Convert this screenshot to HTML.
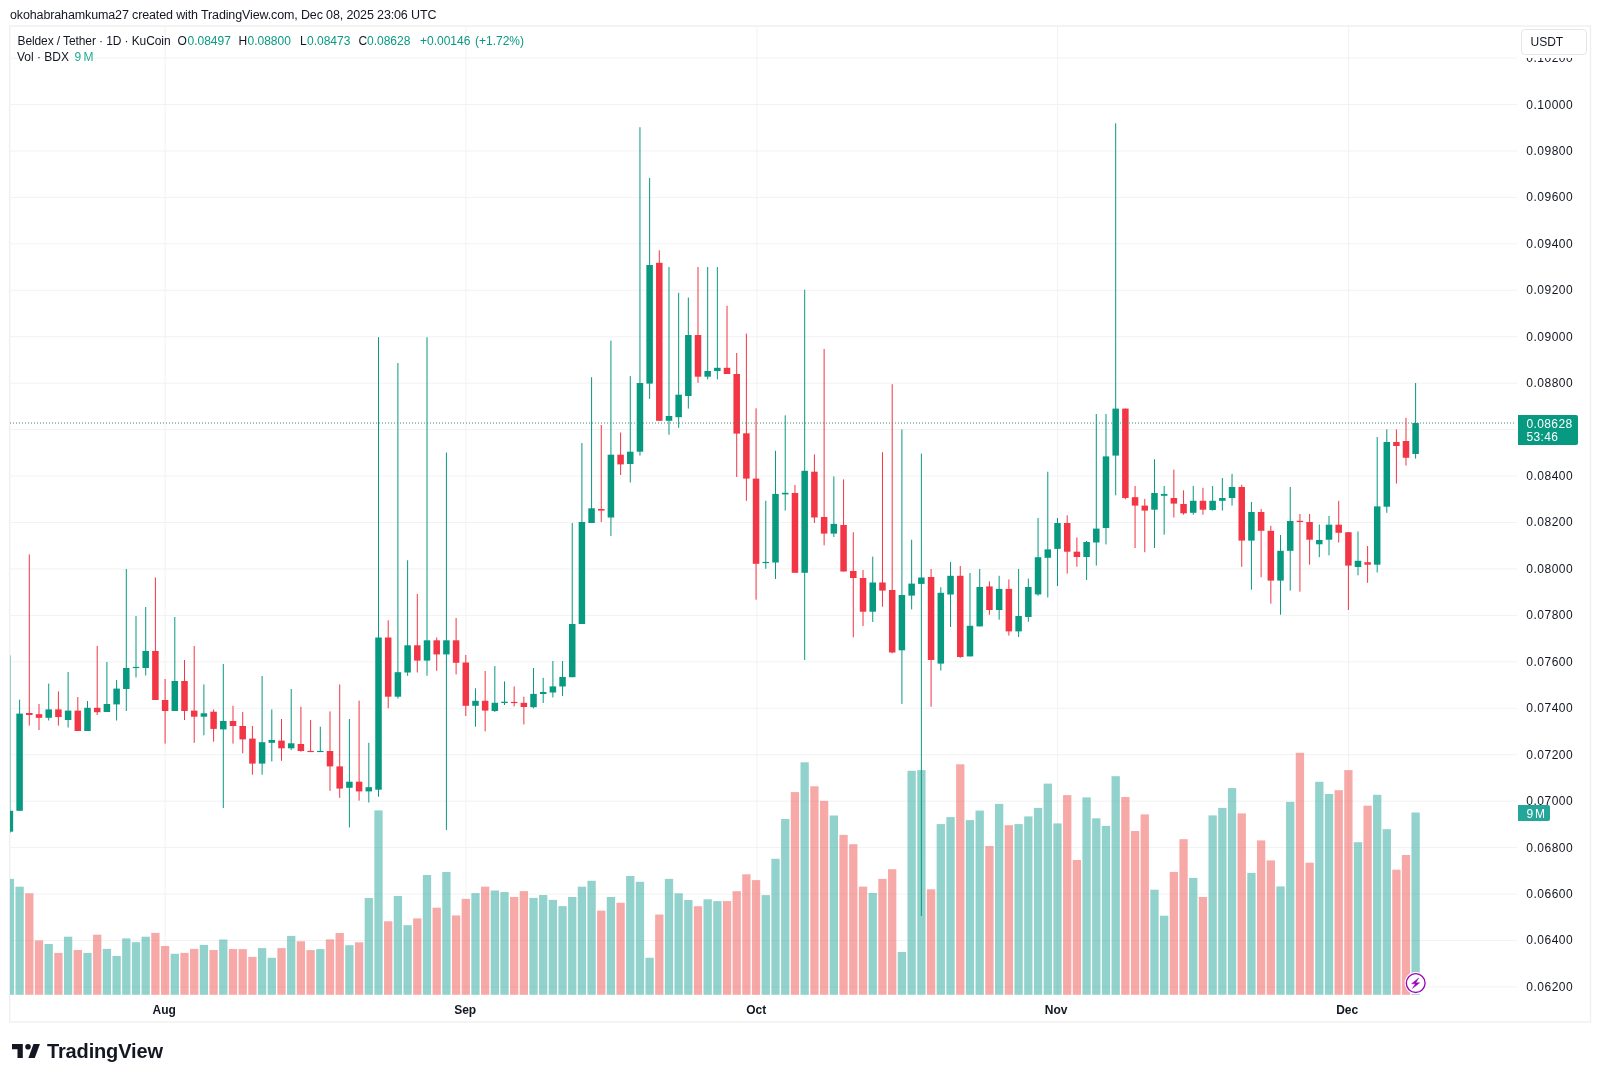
<!DOCTYPE html>
<html><head><meta charset="utf-8">
<style>
html,body{margin:0;padding:0;background:#fff;}
body{will-change:transform;width:1600px;height:1080px;position:relative;overflow:hidden;font-family:"Liberation Sans",sans-serif;color:#131722;}
.hdr{position:absolute;left:10px;top:6px;font-size:12.5px;line-height:18px;white-space:nowrap;letter-spacing:-0.13px;}
.frame{position:absolute;left:9px;top:25px;width:1580px;height:996px;border:1px solid #e8e8e8;}
svg.chart{position:absolute;left:0;top:0;}
.leg{position:absolute;left:17px;font-size:12px;line-height:16px;white-space:nowrap;}
.leg .v,.leg.v{color:#089981;}
.pl{position:absolute;left:1526.3px;font-size:12px;line-height:16px;white-space:nowrap;letter-spacing:0.5px;}
.tl{position:absolute;top:1002px;font-size:12px;font-weight:bold;line-height:16px;width:60px;text-align:center;}
.usdt{position:absolute;left:1520.5px;top:29px;width:64px;height:24px;border:1px solid #e6e6e6;border-radius:4px;background:#fff;font-size:12px;line-height:24px;box-sizing:content-box;}
.usdt span{position:absolute;left:9px;top:-0.5px;}
.ptag{position:absolute;left:1518px;top:415px;width:60px;height:29.5px;background:#089981;color:#fff;font-size:12px;line-height:13px;border-radius:0 2px 2px 0;}
.ptag div{position:absolute;left:8.4px;letter-spacing:0.4px;}
.vtag{position:absolute;left:1518px;top:805px;width:32px;height:16px;background:#24a69a;color:#fff;font-size:12px;line-height:16px;border-radius:0 2px 2px 0;}
.logo{position:absolute;left:11.9px;top:1043.6px;}
.logotext{position:absolute;left:47px;top:1039px;font-size:20px;font-weight:bold;line-height:24px;letter-spacing:-0.15px;}
</style></head><body>
<div class="hdr">okohabrahamkuma27 created with TradingView.com, Dec 08, 2025 23:06 UTC</div>

<svg class="chart" width="1600" height="1080" viewBox="0 0 1600 1080">
<defs><clipPath id="cp"><rect x="10" y="26" width="1507" height="969"/></clipPath></defs>
<rect x="9.75" y="26" width="1580.75" height="996" fill="none" stroke="#efefef" stroke-width="1.4"/>
<g><rect x="10" y="57.56" width="1507" height="1" fill="#f2f2f2"/><rect x="10" y="104" width="1507" height="1" fill="#f2f2f2"/><rect x="10" y="150.44" width="1507" height="1" fill="#f2f2f2"/><rect x="10" y="196.89" width="1507" height="1" fill="#f2f2f2"/><rect x="10" y="243.33" width="1507" height="1" fill="#f2f2f2"/><rect x="10" y="289.77" width="1507" height="1" fill="#f2f2f2"/><rect x="10" y="336.21" width="1507" height="1" fill="#f2f2f2"/><rect x="10" y="382.66" width="1507" height="1" fill="#f2f2f2"/><rect x="10" y="429.1" width="1507" height="1" fill="#f2f2f2"/><rect x="10" y="475.54" width="1507" height="1" fill="#f2f2f2"/><rect x="10" y="521.99" width="1507" height="1" fill="#f2f2f2"/><rect x="10" y="568.43" width="1507" height="1" fill="#f2f2f2"/><rect x="10" y="614.87" width="1507" height="1" fill="#f2f2f2"/><rect x="10" y="661.32" width="1507" height="1" fill="#f2f2f2"/><rect x="10" y="707.76" width="1507" height="1" fill="#f2f2f2"/><rect x="10" y="754.2" width="1507" height="1" fill="#f2f2f2"/><rect x="10" y="800.64" width="1507" height="1" fill="#f2f2f2"/><rect x="10" y="847.09" width="1507" height="1" fill="#f2f2f2"/><rect x="10" y="893.53" width="1507" height="1" fill="#f2f2f2"/><rect x="10" y="939.97" width="1507" height="1" fill="#f2f2f2"/><rect x="10" y="986.42" width="1507" height="1" fill="#f2f2f2"/><rect x="164.7" y="26" width="1" height="969" fill="#f2f2f2"/><rect x="465.4" y="26" width="1" height="969" fill="#f2f2f2"/><rect x="756.4" y="26" width="1" height="969" fill="#f2f2f2"/><rect x="1057.1" y="26" width="1" height="969" fill="#f2f2f2"/><rect x="1348.1" y="26" width="1" height="969" fill="#f2f2f2"/></g>
<g clip-path="url(#cp)">
<g><rect x="5.75" y="878.9" width="8.3" height="115.9" fill="rgba(38,166,154,0.5)"/><rect x="15.45" y="886.7" width="8.3" height="108.1" fill="rgba(38,166,154,0.5)"/><rect x="25.15" y="893.3" width="8.3" height="101.5" fill="rgba(239,83,80,0.5)"/><rect x="34.85" y="940.4" width="8.3" height="54.4" fill="rgba(239,83,80,0.5)"/><rect x="44.55" y="944" width="8.3" height="50.8" fill="rgba(38,166,154,0.5)"/><rect x="54.25" y="952.9" width="8.3" height="41.9" fill="rgba(239,83,80,0.5)"/><rect x="63.95" y="936.7" width="8.3" height="58.1" fill="rgba(38,166,154,0.5)"/><rect x="73.65" y="950" width="8.3" height="44.8" fill="rgba(239,83,80,0.5)"/><rect x="83.35" y="952.9" width="8.3" height="41.9" fill="rgba(38,166,154,0.5)"/><rect x="93.05" y="934.7" width="8.3" height="60.1" fill="rgba(239,83,80,0.5)"/><rect x="102.75" y="948.9" width="8.3" height="45.9" fill="rgba(38,166,154,0.5)"/><rect x="112.45" y="956" width="8.3" height="38.8" fill="rgba(38,166,154,0.5)"/><rect x="122.15" y="938.4" width="8.3" height="56.4" fill="rgba(38,166,154,0.5)"/><rect x="131.85" y="942.2" width="8.3" height="52.6" fill="rgba(38,166,154,0.5)"/><rect x="141.55" y="936.7" width="8.3" height="58.1" fill="rgba(38,166,154,0.5)"/><rect x="151.25" y="932.9" width="8.3" height="61.9" fill="rgba(239,83,80,0.5)"/><rect x="160.95" y="946" width="8.3" height="48.8" fill="rgba(239,83,80,0.5)"/><rect x="170.65" y="953.8" width="8.3" height="41" fill="rgba(38,166,154,0.5)"/><rect x="180.35" y="952.9" width="8.3" height="41.9" fill="rgba(239,83,80,0.5)"/><rect x="190.05" y="948.9" width="8.3" height="45.9" fill="rgba(239,83,80,0.5)"/><rect x="199.75" y="944.9" width="8.3" height="49.9" fill="rgba(38,166,154,0.5)"/><rect x="209.45" y="950" width="8.3" height="44.8" fill="rgba(239,83,80,0.5)"/><rect x="219.15" y="939.5" width="8.3" height="55.3" fill="rgba(38,166,154,0.5)"/><rect x="228.85" y="949" width="8.3" height="45.8" fill="rgba(239,83,80,0.5)"/><rect x="238.55" y="949.1" width="8.3" height="45.7" fill="rgba(239,83,80,0.5)"/><rect x="248.25" y="956.9" width="8.3" height="37.9" fill="rgba(239,83,80,0.5)"/><rect x="257.95" y="948.1" width="8.3" height="46.7" fill="rgba(38,166,154,0.5)"/><rect x="267.65" y="957.8" width="8.3" height="37" fill="rgba(38,166,154,0.5)"/><rect x="277.35" y="948.1" width="8.3" height="46.7" fill="rgba(239,83,80,0.5)"/><rect x="287.05" y="935.9" width="8.3" height="58.9" fill="rgba(38,166,154,0.5)"/><rect x="296.75" y="941.3" width="8.3" height="53.5" fill="rgba(239,83,80,0.5)"/><rect x="306.45" y="950.1" width="8.3" height="44.7" fill="rgba(239,83,80,0.5)"/><rect x="316.15" y="949.1" width="8.3" height="45.7" fill="rgba(38,166,154,0.5)"/><rect x="325.85" y="939.4" width="8.3" height="55.4" fill="rgba(239,83,80,0.5)"/><rect x="335.55" y="933" width="8.3" height="61.8" fill="rgba(239,83,80,0.5)"/><rect x="345.25" y="945.2" width="8.3" height="49.6" fill="rgba(38,166,154,0.5)"/><rect x="354.95" y="942.3" width="8.3" height="52.5" fill="rgba(239,83,80,0.5)"/><rect x="364.65" y="898" width="8.3" height="96.8" fill="rgba(38,166,154,0.5)"/><rect x="374.35" y="810.4" width="8.3" height="184.4" fill="rgba(38,166,154,0.5)"/><rect x="384.05" y="921.3" width="8.3" height="73.5" fill="rgba(239,83,80,0.5)"/><rect x="393.75" y="896" width="8.3" height="98.8" fill="rgba(38,166,154,0.5)"/><rect x="403.45" y="925.2" width="8.3" height="69.6" fill="rgba(38,166,154,0.5)"/><rect x="413.15" y="918.4" width="8.3" height="76.4" fill="rgba(239,83,80,0.5)"/><rect x="422.85" y="875" width="8.3" height="119.8" fill="rgba(38,166,154,0.5)"/><rect x="432.55" y="907.7" width="8.3" height="87.1" fill="rgba(239,83,80,0.5)"/><rect x="442.25" y="872" width="8.3" height="122.8" fill="rgba(38,166,154,0.5)"/><rect x="451.95" y="915.4" width="8.3" height="79.4" fill="rgba(239,83,80,0.5)"/><rect x="461.65" y="898.9" width="8.3" height="95.9" fill="rgba(239,83,80,0.5)"/><rect x="471.33" y="893.1" width="8.3" height="101.7" fill="rgba(38,166,154,0.5)"/><rect x="481" y="886.7" width="8.3" height="108.1" fill="rgba(239,83,80,0.5)"/><rect x="490.68" y="890.5" width="8.3" height="104.3" fill="rgba(38,166,154,0.5)"/><rect x="500.35" y="892.1" width="8.3" height="102.7" fill="rgba(38,166,154,0.5)"/><rect x="510.02" y="897" width="8.3" height="97.8" fill="rgba(239,83,80,0.5)"/><rect x="519.7" y="891.1" width="8.3" height="103.7" fill="rgba(239,83,80,0.5)"/><rect x="529.38" y="897.9" width="8.3" height="96.9" fill="rgba(38,166,154,0.5)"/><rect x="539.05" y="895" width="8.3" height="99.8" fill="rgba(38,166,154,0.5)"/><rect x="548.73" y="899.9" width="8.3" height="94.9" fill="rgba(38,166,154,0.5)"/><rect x="558.4" y="906.1" width="8.3" height="88.7" fill="rgba(38,166,154,0.5)"/><rect x="568.08" y="897" width="8.3" height="97.8" fill="rgba(38,166,154,0.5)"/><rect x="577.75" y="886.7" width="8.3" height="108.1" fill="rgba(38,166,154,0.5)"/><rect x="587.43" y="880.8" width="8.3" height="114" fill="rgba(38,166,154,0.5)"/><rect x="597.1" y="910.6" width="8.3" height="84.2" fill="rgba(239,83,80,0.5)"/><rect x="606.77" y="897" width="8.3" height="97.8" fill="rgba(38,166,154,0.5)"/><rect x="616.45" y="902.8" width="8.3" height="92" fill="rgba(239,83,80,0.5)"/><rect x="626.12" y="876" width="8.3" height="118.8" fill="rgba(38,166,154,0.5)"/><rect x="635.8" y="881.8" width="8.3" height="113" fill="rgba(38,166,154,0.5)"/><rect x="645.48" y="957.8" width="8.3" height="37" fill="rgba(38,166,154,0.5)"/><rect x="655.15" y="914.5" width="8.3" height="80.3" fill="rgba(239,83,80,0.5)"/><rect x="664.83" y="878.9" width="8.3" height="115.9" fill="rgba(38,166,154,0.5)"/><rect x="674.5" y="893.3" width="8.3" height="101.5" fill="rgba(38,166,154,0.5)"/><rect x="684.18" y="900" width="8.3" height="94.8" fill="rgba(38,166,154,0.5)"/><rect x="693.85" y="906.2" width="8.3" height="88.6" fill="rgba(239,83,80,0.5)"/><rect x="703.52" y="899.3" width="8.3" height="95.5" fill="rgba(38,166,154,0.5)"/><rect x="713.2" y="901.1" width="8.3" height="93.7" fill="rgba(38,166,154,0.5)"/><rect x="722.88" y="901.1" width="8.3" height="93.7" fill="rgba(239,83,80,0.5)"/><rect x="732.55" y="891.2" width="8.3" height="103.6" fill="rgba(239,83,80,0.5)"/><rect x="742.23" y="874.3" width="8.3" height="120.5" fill="rgba(239,83,80,0.5)"/><rect x="751.9" y="880.1" width="8.3" height="114.7" fill="rgba(239,83,80,0.5)"/><rect x="761.62" y="895.1" width="8.3" height="99.7" fill="rgba(38,166,154,0.5)"/><rect x="771.35" y="858.8" width="8.3" height="136" fill="rgba(38,166,154,0.5)"/><rect x="781.07" y="819" width="8.3" height="175.8" fill="rgba(38,166,154,0.5)"/><rect x="790.8" y="792.1" width="8.3" height="202.7" fill="rgba(239,83,80,0.5)"/><rect x="800.52" y="762.3" width="8.3" height="232.5" fill="rgba(38,166,154,0.5)"/><rect x="810.25" y="786.3" width="8.3" height="208.5" fill="rgba(239,83,80,0.5)"/><rect x="819.97" y="800.9" width="8.3" height="193.9" fill="rgba(239,83,80,0.5)"/><rect x="829.69" y="815.5" width="8.3" height="179.3" fill="rgba(38,166,154,0.5)"/><rect x="839.42" y="834.9" width="8.3" height="159.9" fill="rgba(239,83,80,0.5)"/><rect x="849.14" y="844.2" width="8.3" height="150.6" fill="rgba(239,83,80,0.5)"/><rect x="858.87" y="886.6" width="8.3" height="108.2" fill="rgba(239,83,80,0.5)"/><rect x="868.59" y="893" width="8.3" height="101.8" fill="rgba(38,166,154,0.5)"/><rect x="878.31" y="878.9" width="8.3" height="115.9" fill="rgba(239,83,80,0.5)"/><rect x="888.04" y="869.2" width="8.3" height="125.6" fill="rgba(239,83,80,0.5)"/><rect x="897.76" y="952" width="8.3" height="42.8" fill="rgba(38,166,154,0.5)"/><rect x="907.49" y="770.8" width="8.3" height="224" fill="rgba(38,166,154,0.5)"/><rect x="917.21" y="770.1" width="8.3" height="224.7" fill="rgba(38,166,154,0.5)"/><rect x="926.94" y="889.3" width="8.3" height="105.5" fill="rgba(239,83,80,0.5)"/><rect x="936.66" y="824.1" width="8.3" height="170.7" fill="rgba(38,166,154,0.5)"/><rect x="946.38" y="817.1" width="8.3" height="177.7" fill="rgba(38,166,154,0.5)"/><rect x="956.11" y="764.3" width="8.3" height="230.5" fill="rgba(239,83,80,0.5)"/><rect x="965.83" y="820.1" width="8.3" height="174.7" fill="rgba(38,166,154,0.5)"/><rect x="975.56" y="810.6" width="8.3" height="184.2" fill="rgba(38,166,154,0.5)"/><rect x="985.28" y="846" width="8.3" height="148.8" fill="rgba(239,83,80,0.5)"/><rect x="995" y="803.9" width="8.3" height="190.9" fill="rgba(38,166,154,0.5)"/><rect x="1004.73" y="825.2" width="8.3" height="169.6" fill="rgba(239,83,80,0.5)"/><rect x="1014.45" y="824.1" width="8.3" height="170.7" fill="rgba(38,166,154,0.5)"/><rect x="1024.18" y="816.4" width="8.3" height="178.4" fill="rgba(38,166,154,0.5)"/><rect x="1033.9" y="807.9" width="8.3" height="186.9" fill="rgba(38,166,154,0.5)"/><rect x="1043.63" y="783.6" width="8.3" height="211.2" fill="rgba(38,166,154,0.5)"/><rect x="1053.35" y="823.4" width="8.3" height="171.4" fill="rgba(38,166,154,0.5)"/><rect x="1063.05" y="795.1" width="8.3" height="199.7" fill="rgba(239,83,80,0.5)"/><rect x="1072.74" y="860" width="8.3" height="134.8" fill="rgba(239,83,80,0.5)"/><rect x="1082.44" y="797.4" width="8.3" height="197.4" fill="rgba(38,166,154,0.5)"/><rect x="1092.14" y="818.3" width="8.3" height="176.5" fill="rgba(38,166,154,0.5)"/><rect x="1101.83" y="825.9" width="8.3" height="168.9" fill="rgba(38,166,154,0.5)"/><rect x="1111.53" y="776.2" width="8.3" height="218.6" fill="rgba(38,166,154,0.5)"/><rect x="1121.23" y="797" width="8.3" height="197.8" fill="rgba(239,83,80,0.5)"/><rect x="1130.92" y="831" width="8.3" height="163.8" fill="rgba(239,83,80,0.5)"/><rect x="1140.62" y="814.4" width="8.3" height="180.4" fill="rgba(239,83,80,0.5)"/><rect x="1150.32" y="889.7" width="8.3" height="105.1" fill="rgba(38,166,154,0.5)"/><rect x="1160.01" y="915.7" width="8.3" height="79.1" fill="rgba(38,166,154,0.5)"/><rect x="1169.71" y="871.9" width="8.3" height="122.9" fill="rgba(239,83,80,0.5)"/><rect x="1179.41" y="839.2" width="8.3" height="155.6" fill="rgba(239,83,80,0.5)"/><rect x="1189.1" y="877.9" width="8.3" height="116.9" fill="rgba(38,166,154,0.5)"/><rect x="1198.8" y="897" width="8.3" height="97.8" fill="rgba(239,83,80,0.5)"/><rect x="1208.5" y="815.4" width="8.3" height="179.4" fill="rgba(38,166,154,0.5)"/><rect x="1218.19" y="807.9" width="8.3" height="186.9" fill="rgba(38,166,154,0.5)"/><rect x="1227.89" y="788.1" width="8.3" height="206.7" fill="rgba(38,166,154,0.5)"/><rect x="1237.59" y="813.4" width="8.3" height="181.4" fill="rgba(239,83,80,0.5)"/><rect x="1247.28" y="872.9" width="8.3" height="121.9" fill="rgba(38,166,154,0.5)"/><rect x="1256.98" y="840.4" width="8.3" height="154.4" fill="rgba(239,83,80,0.5)"/><rect x="1266.68" y="860.4" width="8.3" height="134.4" fill="rgba(239,83,80,0.5)"/><rect x="1276.37" y="886.4" width="8.3" height="108.4" fill="rgba(38,166,154,0.5)"/><rect x="1286.07" y="801.9" width="8.3" height="192.9" fill="rgba(38,166,154,0.5)"/><rect x="1295.77" y="752.8" width="8.3" height="242" fill="rgba(239,83,80,0.5)"/><rect x="1305.46" y="862.7" width="8.3" height="132.1" fill="rgba(239,83,80,0.5)"/><rect x="1315.16" y="781.8" width="8.3" height="213" fill="rgba(38,166,154,0.5)"/><rect x="1324.86" y="794" width="8.3" height="200.8" fill="rgba(38,166,154,0.5)"/><rect x="1334.55" y="790.2" width="8.3" height="204.6" fill="rgba(239,83,80,0.5)"/><rect x="1344.25" y="770.1" width="8.3" height="224.7" fill="rgba(239,83,80,0.5)"/><rect x="1353.85" y="842.2" width="8.3" height="152.6" fill="rgba(38,166,154,0.5)"/><rect x="1363.45" y="805.7" width="8.3" height="189.1" fill="rgba(239,83,80,0.5)"/><rect x="1373.05" y="794.8" width="8.3" height="200" fill="rgba(38,166,154,0.5)"/><rect x="1382.65" y="829.2" width="8.3" height="165.6" fill="rgba(38,166,154,0.5)"/><rect x="1392.25" y="869.7" width="8.3" height="125.1" fill="rgba(239,83,80,0.5)"/><rect x="1401.85" y="855" width="8.3" height="139.8" fill="rgba(239,83,80,0.5)"/><rect x="1411.45" y="812.5" width="8.3" height="182.3" fill="rgba(38,166,154,0.5)"/></g>
<g><rect x="9.4" y="655.3" width="1" height="177.7" fill="#089981"/><rect x="6.65" y="810.8" width="6.5" height="20.9" fill="#089981"/><rect x="19.1" y="699.7" width="1" height="111.1" fill="#089981"/><rect x="16.35" y="713.6" width="6.5" height="97.2" fill="#089981"/><rect x="28.8" y="554.4" width="1" height="171.2" fill="#f23645"/><rect x="26.05" y="713" width="6.5" height="2" fill="#f23645"/><rect x="38.5" y="704" width="1" height="26" fill="#f23645"/><rect x="35.75" y="714.2" width="6.5" height="3.6" fill="#f23645"/><rect x="48.2" y="683.6" width="1" height="36.9" fill="#089981"/><rect x="45.45" y="709.4" width="6.5" height="8.4" fill="#089981"/><rect x="57.9" y="691.4" width="1" height="34.2" fill="#f23645"/><rect x="55.15" y="709.4" width="6.5" height="7.6" fill="#f23645"/><rect x="67.6" y="672" width="1" height="55.5" fill="#089981"/><rect x="64.85" y="710.6" width="6.5" height="9.4" fill="#089981"/><rect x="77.3" y="697" width="1" height="34" fill="#f23645"/><rect x="74.55" y="710.6" width="6.5" height="20.4" fill="#f23645"/><rect x="87" y="701" width="1" height="30" fill="#089981"/><rect x="84.25" y="707.8" width="6.5" height="23.2" fill="#089981"/><rect x="96.7" y="646" width="1" height="69" fill="#f23645"/><rect x="93.95" y="707.8" width="6.5" height="4.4" fill="#f23645"/><rect x="106.4" y="662" width="1" height="50" fill="#089981"/><rect x="103.65" y="704" width="6.5" height="8" fill="#089981"/><rect x="116.1" y="680" width="1" height="40.5" fill="#089981"/><rect x="113.35" y="688.6" width="6.5" height="15.8" fill="#089981"/><rect x="125.8" y="569" width="1" height="142" fill="#089981"/><rect x="123.05" y="668" width="6.5" height="21" fill="#089981"/><rect x="135.5" y="616" width="1" height="61.5" fill="#089981"/><rect x="132.75" y="666.9" width="6.5" height="1.2" fill="#089981"/><rect x="145.2" y="607" width="1" height="68.5" fill="#089981"/><rect x="142.45" y="651" width="6.5" height="17" fill="#089981"/><rect x="154.9" y="577.5" width="1" height="122.5" fill="#f23645"/><rect x="152.15" y="651" width="6.5" height="49" fill="#f23645"/><rect x="164.6" y="679" width="1" height="64.6" fill="#f23645"/><rect x="161.85" y="700" width="6.5" height="11" fill="#f23645"/><rect x="174.3" y="617" width="1" height="94" fill="#089981"/><rect x="171.55" y="681" width="6.5" height="30" fill="#089981"/><rect x="184" y="660" width="1" height="60" fill="#f23645"/><rect x="181.25" y="681" width="6.5" height="30" fill="#f23645"/><rect x="193.7" y="646" width="1" height="96.8" fill="#f23645"/><rect x="190.95" y="710.6" width="6.5" height="6.1" fill="#f23645"/><rect x="203.4" y="684.4" width="1" height="50.9" fill="#089981"/><rect x="200.65" y="713.3" width="6.5" height="3.4" fill="#089981"/><rect x="213.1" y="709.4" width="1" height="32.3" fill="#f23645"/><rect x="210.35" y="711.7" width="6.5" height="17.2" fill="#f23645"/><rect x="222.8" y="664" width="1" height="144" fill="#089981"/><rect x="220.05" y="721" width="6.5" height="8.4" fill="#089981"/><rect x="232.5" y="705.8" width="1" height="37.8" fill="#f23645"/><rect x="229.75" y="721" width="6.5" height="5" fill="#f23645"/><rect x="242.2" y="712" width="1" height="41.3" fill="#f23645"/><rect x="239.45" y="726" width="6.5" height="13.4" fill="#f23645"/><rect x="251.9" y="726" width="1" height="48.7" fill="#f23645"/><rect x="249.15" y="738.6" width="6.5" height="25" fill="#f23645"/><rect x="261.6" y="676" width="1" height="98.7" fill="#089981"/><rect x="258.85" y="742.2" width="6.5" height="21.4" fill="#089981"/><rect x="271.3" y="709.4" width="1" height="52" fill="#089981"/><rect x="268.55" y="740" width="6.5" height="2.8" fill="#089981"/><rect x="281" y="719" width="1" height="41.8" fill="#f23645"/><rect x="278.25" y="740.6" width="6.5" height="7.7" fill="#f23645"/><rect x="290.7" y="689" width="1" height="61" fill="#089981"/><rect x="287.95" y="743.3" width="6.5" height="5" fill="#089981"/><rect x="300.4" y="706.7" width="1" height="45" fill="#f23645"/><rect x="297.65" y="744" width="6.5" height="7" fill="#f23645"/><rect x="310.1" y="720" width="1" height="32" fill="#f23645"/><rect x="307.35" y="750.9" width="6.5" height="1.2" fill="#f23645"/><rect x="319.8" y="726.7" width="1" height="25.3" fill="#089981"/><rect x="317.05" y="750.9" width="6.5" height="1.2" fill="#089981"/><rect x="329.5" y="711.4" width="1" height="79.4" fill="#f23645"/><rect x="326.75" y="751" width="6.5" height="15.4" fill="#f23645"/><rect x="339.2" y="684.4" width="1" height="113.4" fill="#f23645"/><rect x="336.45" y="766.4" width="6.5" height="22.2" fill="#f23645"/><rect x="348.9" y="719" width="1" height="108.5" fill="#089981"/><rect x="346.15" y="781.7" width="6.5" height="6.1" fill="#089981"/><rect x="358.6" y="700.6" width="1" height="100" fill="#f23645"/><rect x="355.85" y="781.7" width="6.5" height="9.7" fill="#f23645"/><rect x="368.3" y="742.8" width="1" height="59.7" fill="#089981"/><rect x="365.55" y="787.2" width="6.5" height="4.2" fill="#089981"/><rect x="378" y="337.2" width="1" height="459.5" fill="#089981"/><rect x="375.25" y="637.5" width="6.5" height="152.2" fill="#089981"/><rect x="387.7" y="620.3" width="1" height="88" fill="#f23645"/><rect x="384.95" y="637.5" width="6.5" height="59.2" fill="#f23645"/><rect x="397.4" y="363" width="1" height="335.6" fill="#089981"/><rect x="394.65" y="672.2" width="6.5" height="24.5" fill="#089981"/><rect x="407.1" y="560.3" width="1" height="115.5" fill="#089981"/><rect x="404.35" y="645.3" width="6.5" height="27.2" fill="#089981"/><rect x="416.8" y="593.9" width="1" height="78.6" fill="#f23645"/><rect x="414.05" y="645.3" width="6.5" height="15.3" fill="#f23645"/><rect x="426.5" y="337.2" width="1" height="338.6" fill="#089981"/><rect x="423.75" y="640.3" width="6.5" height="20.3" fill="#089981"/><rect x="436.2" y="637.5" width="1" height="33.3" fill="#f23645"/><rect x="433.45" y="640.3" width="6.5" height="14.1" fill="#f23645"/><rect x="445.9" y="452.5" width="1" height="377.5" fill="#089981"/><rect x="443.15" y="640.3" width="6.5" height="14.1" fill="#089981"/><rect x="455.6" y="618" width="1" height="56.4" fill="#f23645"/><rect x="452.85" y="640.3" width="6.5" height="22.5" fill="#f23645"/><rect x="465.3" y="655" width="1" height="61" fill="#f23645"/><rect x="462.55" y="662.5" width="6.5" height="43.3" fill="#f23645"/><rect x="474.98" y="688.3" width="1" height="38.4" fill="#089981"/><rect x="472.23" y="700.8" width="6.5" height="5" fill="#089981"/><rect x="484.65" y="671" width="1" height="60.4" fill="#f23645"/><rect x="481.9" y="700.8" width="6.5" height="9.8" fill="#f23645"/><rect x="494.32" y="666" width="1" height="46" fill="#089981"/><rect x="491.57" y="702.8" width="6.5" height="8.2" fill="#089981"/><rect x="504" y="681.4" width="1" height="23.6" fill="#089981"/><rect x="501.25" y="701.7" width="6.5" height="1.3" fill="#089981"/><rect x="513.67" y="686.4" width="1" height="20" fill="#f23645"/><rect x="510.92" y="701.9" width="6.5" height="1.2" fill="#f23645"/><rect x="523.35" y="696.7" width="1" height="27.7" fill="#f23645"/><rect x="520.6" y="702.8" width="6.5" height="4.2" fill="#f23645"/><rect x="533.02" y="668" width="1" height="40.3" fill="#089981"/><rect x="530.27" y="693.9" width="6.5" height="13.3" fill="#089981"/><rect x="542.7" y="677.8" width="1" height="25.2" fill="#089981"/><rect x="539.95" y="692" width="6.5" height="2" fill="#089981"/><rect x="552.38" y="661" width="1" height="36.5" fill="#089981"/><rect x="549.62" y="686.4" width="6.5" height="6.1" fill="#089981"/><rect x="562.05" y="661" width="1" height="35" fill="#089981"/><rect x="559.3" y="677" width="6.5" height="9.5" fill="#089981"/><rect x="571.73" y="523" width="1" height="154.2" fill="#089981"/><rect x="568.98" y="624" width="6.5" height="53.2" fill="#089981"/><rect x="581.4" y="443" width="1" height="181" fill="#089981"/><rect x="578.65" y="522" width="6.5" height="102" fill="#089981"/><rect x="591.08" y="377.2" width="1" height="145.8" fill="#089981"/><rect x="588.33" y="508.3" width="6.5" height="14.7" fill="#089981"/><rect x="600.75" y="425" width="1" height="97" fill="#f23645"/><rect x="598" y="509" width="6.5" height="1.6" fill="#f23645"/><rect x="610.42" y="340.6" width="1" height="195.4" fill="#089981"/><rect x="607.67" y="454.7" width="6.5" height="62.8" fill="#089981"/><rect x="620.1" y="432.5" width="1" height="42.5" fill="#f23645"/><rect x="617.35" y="454.7" width="6.5" height="9.7" fill="#f23645"/><rect x="629.77" y="376.1" width="1" height="106.4" fill="#089981"/><rect x="627.02" y="451.7" width="6.5" height="12.3" fill="#089981"/><rect x="639.45" y="127.2" width="1" height="328.4" fill="#089981"/><rect x="636.7" y="383" width="6.5" height="68.7" fill="#089981"/><rect x="649.12" y="178" width="1" height="220.9" fill="#089981"/><rect x="646.38" y="265" width="6.5" height="118.6" fill="#089981"/><rect x="658.8" y="250.3" width="1" height="170.5" fill="#f23645"/><rect x="656.05" y="262.8" width="6.5" height="158" fill="#f23645"/><rect x="668.48" y="267" width="1" height="167.7" fill="#089981"/><rect x="665.73" y="416" width="6.5" height="4.8" fill="#089981"/><rect x="678.15" y="292.8" width="1" height="135" fill="#089981"/><rect x="675.4" y="394.7" width="6.5" height="22.5" fill="#089981"/><rect x="687.83" y="297.5" width="1" height="111.1" fill="#089981"/><rect x="685.08" y="335" width="6.5" height="61" fill="#089981"/><rect x="697.5" y="267" width="1" height="115.8" fill="#f23645"/><rect x="694.75" y="335" width="6.5" height="41.7" fill="#f23645"/><rect x="707.17" y="267" width="1" height="112.4" fill="#089981"/><rect x="704.42" y="371" width="6.5" height="5.7" fill="#089981"/><rect x="716.85" y="267" width="1" height="112.4" fill="#089981"/><rect x="714.1" y="367.8" width="6.5" height="3.2" fill="#089981"/><rect x="726.52" y="305.8" width="1" height="68.2" fill="#f23645"/><rect x="723.77" y="367.8" width="6.5" height="6.2" fill="#f23645"/><rect x="736.2" y="353" width="1" height="124" fill="#f23645"/><rect x="733.45" y="374" width="6.5" height="59.6" fill="#f23645"/><rect x="745.88" y="333.6" width="1" height="167.2" fill="#f23645"/><rect x="743.12" y="433.3" width="6.5" height="45.3" fill="#f23645"/><rect x="755.55" y="408.3" width="1" height="191.4" fill="#f23645"/><rect x="752.8" y="478.6" width="6.5" height="85.2" fill="#f23645"/><rect x="765.27" y="500.8" width="1" height="68" fill="#089981"/><rect x="762.52" y="561.9" width="6.5" height="1.2" fill="#089981"/><rect x="775" y="450.8" width="1" height="128.2" fill="#089981"/><rect x="772.25" y="493.9" width="6.5" height="68.6" fill="#089981"/><rect x="784.72" y="415.3" width="1" height="95.3" fill="#089981"/><rect x="781.97" y="492.8" width="6.5" height="1.6" fill="#089981"/><rect x="794.45" y="485" width="1" height="87.8" fill="#f23645"/><rect x="791.7" y="493" width="6.5" height="79.8" fill="#f23645"/><rect x="804.17" y="289.7" width="1" height="370.3" fill="#089981"/><rect x="801.42" y="470.8" width="6.5" height="102" fill="#089981"/><rect x="813.9" y="454.4" width="1" height="68.6" fill="#f23645"/><rect x="811.15" y="471.7" width="6.5" height="45.8" fill="#f23645"/><rect x="823.62" y="348.9" width="1" height="196.4" fill="#f23645"/><rect x="820.87" y="517" width="6.5" height="16.6" fill="#f23645"/><rect x="833.34" y="476.4" width="1" height="60.6" fill="#089981"/><rect x="830.59" y="523.9" width="6.5" height="9.7" fill="#089981"/><rect x="843.07" y="479.4" width="1" height="92.1" fill="#f23645"/><rect x="840.32" y="525" width="6.5" height="46.5" fill="#f23645"/><rect x="852.79" y="532.2" width="1" height="105" fill="#f23645"/><rect x="850.04" y="571" width="6.5" height="7" fill="#f23645"/><rect x="862.52" y="570" width="1" height="56.1" fill="#f23645"/><rect x="859.77" y="578" width="6.5" height="33.7" fill="#f23645"/><rect x="872.24" y="556.6" width="1" height="65.4" fill="#089981"/><rect x="869.49" y="582.5" width="6.5" height="29.2" fill="#089981"/><rect x="881.96" y="452.2" width="1" height="154.5" fill="#f23645"/><rect x="879.21" y="582.5" width="6.5" height="8.1" fill="#f23645"/><rect x="891.69" y="384.2" width="1" height="269.1" fill="#f23645"/><rect x="888.94" y="590" width="6.5" height="62.5" fill="#f23645"/><rect x="901.41" y="429.4" width="1" height="274.5" fill="#089981"/><rect x="898.66" y="595" width="6.5" height="55.3" fill="#089981"/><rect x="911.14" y="539.7" width="1" height="69.7" fill="#089981"/><rect x="908.39" y="583.6" width="6.5" height="12" fill="#089981"/><rect x="920.86" y="453.6" width="1" height="462.4" fill="#089981"/><rect x="918.11" y="577.5" width="6.5" height="6.4" fill="#089981"/><rect x="930.59" y="569" width="1" height="137.7" fill="#f23645"/><rect x="927.84" y="577" width="6.5" height="83" fill="#f23645"/><rect x="940.31" y="587.2" width="1" height="83.3" fill="#089981"/><rect x="937.56" y="592.8" width="6.5" height="70.8" fill="#089981"/><rect x="950.03" y="562" width="1" height="65" fill="#089981"/><rect x="947.28" y="575.8" width="6.5" height="18.7" fill="#089981"/><rect x="959.76" y="566" width="1" height="91.8" fill="#f23645"/><rect x="957.01" y="575.8" width="6.5" height="81.2" fill="#f23645"/><rect x="969.48" y="573" width="1" height="83.4" fill="#089981"/><rect x="966.73" y="625.8" width="6.5" height="30.6" fill="#089981"/><rect x="979.21" y="568.9" width="1" height="57.5" fill="#089981"/><rect x="976.46" y="587" width="6.5" height="39.4" fill="#089981"/><rect x="988.93" y="581.4" width="1" height="33.3" fill="#f23645"/><rect x="986.18" y="586.4" width="6.5" height="23.6" fill="#f23645"/><rect x="998.65" y="575.8" width="1" height="43.9" fill="#089981"/><rect x="995.9" y="588.9" width="6.5" height="21.1" fill="#089981"/><rect x="1008.38" y="579.4" width="1" height="56.2" fill="#f23645"/><rect x="1005.63" y="588.9" width="6.5" height="42.5" fill="#f23645"/><rect x="1018.1" y="568.9" width="1" height="68.1" fill="#089981"/><rect x="1015.35" y="616" width="6.5" height="15.4" fill="#089981"/><rect x="1027.83" y="578.6" width="1" height="43.1" fill="#089981"/><rect x="1025.08" y="587" width="6.5" height="30" fill="#089981"/><rect x="1037.55" y="518" width="1" height="77.8" fill="#089981"/><rect x="1034.8" y="557.2" width="6.5" height="37.2" fill="#089981"/><rect x="1047.28" y="471.7" width="1" height="125.8" fill="#089981"/><rect x="1044.53" y="549.4" width="6.5" height="8.4" fill="#089981"/><rect x="1057" y="518" width="1" height="68.1" fill="#089981"/><rect x="1054.25" y="523" width="6.5" height="25.9" fill="#089981"/><rect x="1066.7" y="515.3" width="1" height="58.3" fill="#f23645"/><rect x="1063.95" y="523" width="6.5" height="28.7" fill="#f23645"/><rect x="1076.39" y="537.5" width="1" height="29.2" fill="#f23645"/><rect x="1073.64" y="551.7" width="6.5" height="5.3" fill="#f23645"/><rect x="1086.09" y="541" width="1" height="39" fill="#089981"/><rect x="1083.34" y="542" width="6.5" height="15" fill="#089981"/><rect x="1095.79" y="414" width="1" height="151.6" fill="#089981"/><rect x="1093.04" y="528.6" width="6.5" height="13.9" fill="#089981"/><rect x="1105.48" y="414" width="1" height="130.4" fill="#089981"/><rect x="1102.73" y="456.4" width="6.5" height="71.6" fill="#089981"/><rect x="1115.18" y="123.3" width="1" height="372" fill="#089981"/><rect x="1112.43" y="408.6" width="6.5" height="47" fill="#089981"/><rect x="1124.88" y="408.6" width="1" height="90.8" fill="#f23645"/><rect x="1122.13" y="408.6" width="6.5" height="89.4" fill="#f23645"/><rect x="1134.57" y="486" width="1" height="62" fill="#f23645"/><rect x="1131.82" y="497.2" width="6.5" height="8.4" fill="#f23645"/><rect x="1144.27" y="498.9" width="1" height="53.3" fill="#f23645"/><rect x="1141.52" y="505.6" width="6.5" height="5" fill="#f23645"/><rect x="1153.97" y="459.2" width="1" height="88.8" fill="#089981"/><rect x="1151.22" y="493" width="6.5" height="16.7" fill="#089981"/><rect x="1163.66" y="486" width="1" height="48.7" fill="#089981"/><rect x="1160.91" y="494" width="6.5" height="1.8" fill="#089981"/><rect x="1173.36" y="469.7" width="1" height="47.8" fill="#f23645"/><rect x="1170.61" y="498" width="6.5" height="5.6" fill="#f23645"/><rect x="1183.06" y="490.3" width="1" height="24.4" fill="#f23645"/><rect x="1180.31" y="504" width="6.5" height="9.3" fill="#f23645"/><rect x="1192.75" y="486" width="1" height="28.7" fill="#089981"/><rect x="1190" y="500.8" width="6.5" height="12" fill="#089981"/><rect x="1202.45" y="487.8" width="1" height="26.9" fill="#f23645"/><rect x="1199.7" y="500.8" width="6.5" height="8.9" fill="#f23645"/><rect x="1212.15" y="486" width="1" height="24.6" fill="#089981"/><rect x="1209.4" y="500.8" width="6.5" height="9.2" fill="#089981"/><rect x="1221.84" y="478" width="1" height="32.6" fill="#089981"/><rect x="1219.09" y="498" width="6.5" height="2.8" fill="#089981"/><rect x="1231.54" y="473.9" width="1" height="31.7" fill="#089981"/><rect x="1228.79" y="487" width="6.5" height="11" fill="#089981"/><rect x="1241.24" y="484.7" width="1" height="82" fill="#f23645"/><rect x="1238.49" y="487" width="6.5" height="53.6" fill="#f23645"/><rect x="1250.93" y="502" width="1" height="87.7" fill="#089981"/><rect x="1248.18" y="512" width="6.5" height="28.6" fill="#089981"/><rect x="1260.63" y="509" width="1" height="68.2" fill="#f23645"/><rect x="1257.88" y="512" width="6.5" height="18.8" fill="#f23645"/><rect x="1270.33" y="525.8" width="1" height="77.8" fill="#f23645"/><rect x="1267.58" y="530.8" width="6.5" height="49.8" fill="#f23645"/><rect x="1280.02" y="535" width="1" height="79.7" fill="#089981"/><rect x="1277.27" y="550.8" width="6.5" height="29.8" fill="#089981"/><rect x="1289.72" y="487" width="1" height="103.6" fill="#089981"/><rect x="1286.97" y="521" width="6.5" height="29.8" fill="#089981"/><rect x="1299.42" y="514" width="1" height="77.7" fill="#f23645"/><rect x="1296.67" y="520.8" width="6.5" height="1.2" fill="#f23645"/><rect x="1309.11" y="514" width="1" height="50.7" fill="#f23645"/><rect x="1306.36" y="522" width="6.5" height="17.7" fill="#f23645"/><rect x="1318.81" y="524.5" width="1" height="32.6" fill="#089981"/><rect x="1316.06" y="540" width="6.5" height="4.3" fill="#089981"/><rect x="1328.51" y="516" width="1" height="39.3" fill="#089981"/><rect x="1325.76" y="524.7" width="6.5" height="15" fill="#089981"/><rect x="1338.2" y="500.8" width="1" height="41.7" fill="#f23645"/><rect x="1335.45" y="524.7" width="6.5" height="8.1" fill="#f23645"/><rect x="1347.9" y="532" width="1" height="78" fill="#f23645"/><rect x="1345.15" y="532.2" width="6.5" height="33.4" fill="#f23645"/><rect x="1357.5" y="531.4" width="1" height="43.9" fill="#089981"/><rect x="1354.75" y="560.8" width="6.5" height="6.2" fill="#089981"/><rect x="1367.1" y="546" width="1" height="36.8" fill="#f23645"/><rect x="1364.35" y="562.2" width="6.5" height="2.5" fill="#f23645"/><rect x="1376.7" y="437" width="1" height="135.5" fill="#089981"/><rect x="1373.95" y="506.4" width="6.5" height="58.3" fill="#089981"/><rect x="1386.3" y="429.4" width="1" height="83.4" fill="#089981"/><rect x="1383.55" y="442" width="6.5" height="64.7" fill="#089981"/><rect x="1395.9" y="429.4" width="1" height="54.2" fill="#f23645"/><rect x="1393.15" y="442" width="6.5" height="4" fill="#f23645"/><rect x="1405.5" y="417.8" width="1" height="47.8" fill="#f23645"/><rect x="1402.75" y="441" width="6.5" height="16.8" fill="#f23645"/><rect x="1415.1" y="383" width="1" height="75.6" fill="#089981"/><rect x="1412.35" y="423" width="6.5" height="31" fill="#089981"/></g>
<line x1="10" y1="423" x2="1515" y2="423" stroke="#3d8c7e" stroke-width="1" stroke-dasharray="1 2"/>
</g>
<g transform="translate(1415.7 983.1)"><circle r="11" fill="#fff"/><circle r="9.4" fill="#fff" stroke="#9a06b8" stroke-width="1.35"/><path d="M3 -5.1 L-4.1 0.6 L-0.3 0.6 L-3.2 5.3 L3.9 -0.3 L0.1 -0.3 Z" fill="#9a06b8" stroke="#9a06b8" stroke-width="0.5" stroke-linejoin="round"/></g>
</svg>
<div class="leg" style="top:33px;left:17.5px;letter-spacing:-0.1px">Beldex / Tether · 1D · KuCoin</div>
<div class="leg" style="top:33px;left:177.5px">O<span class="v" style="position:absolute;left:10px">0.08497</span></div>
<div class="leg" style="top:33px;left:238.5px">H<span class="v" style="position:absolute;left:9px">0.08800</span></div>
<div class="leg" style="top:33px;left:300px">L<span class="v" style="position:absolute;left:7px">0.08473</span></div>
<div class="leg" style="top:33px;left:358.5px">C<span class="v" style="position:absolute;left:8.5px">0.08628</span></div>
<div class="leg v" style="top:33px;left:420px">+0.00146</div>
<div class="leg v" style="top:33px;left:475px">(+1.72%)</div>
<div class="leg" style="top:49px">Vol · BDX</div><div class="leg" style="top:49px;left:74.5px;color:#22ab94">9</div><div class="leg" style="top:49px;left:83.6px;color:#22ab94">M</div>
<div class="pl" style="top:50.06px">0.10200</div><div class="pl" style="top:96.5px">0.10000</div><div class="pl" style="top:142.94px">0.09800</div><div class="pl" style="top:189.39px">0.09600</div><div class="pl" style="top:235.83px">0.09400</div><div class="pl" style="top:282.27px">0.09200</div><div class="pl" style="top:328.71px">0.09000</div><div class="pl" style="top:375.16px">0.08800</div><div class="pl" style="top:421.6px">0.08600</div><div class="pl" style="top:468.04px">0.08400</div><div class="pl" style="top:514.49px">0.08200</div><div class="pl" style="top:560.93px">0.08000</div><div class="pl" style="top:607.37px">0.07800</div><div class="pl" style="top:653.82px">0.07600</div><div class="pl" style="top:700.26px">0.07400</div><div class="pl" style="top:746.7px">0.07200</div><div class="pl" style="top:793.14px">0.07000</div><div class="pl" style="top:839.59px">0.06800</div><div class="pl" style="top:886.03px">0.06600</div><div class="pl" style="top:932.47px">0.06400</div><div class="pl" style="top:978.92px">0.06200</div>
<div style="position:absolute;left:1518px;top:27px;width:71px;height:30.5px;background:#fff"></div>
<div class="usdt"><span>USDT</span></div>
<div class="ptag"><div style="top:2.6px">0.08628</div><div style="top:15.6px">53:46</div></div>
<div class="vtag"><span style="position:absolute;left:8.6px;top:0.5px">9</span><span style="position:absolute;left:16.9px;top:0.5px">M</span></div>
<div class="tl" style="left:134.2px">Aug</div>
<div class="tl" style="left:435.2px">Sep</div>
<div class="tl" style="left:726.2px">Oct</div>
<div class="tl" style="left:1026.2px">Nov</div>
<div class="tl" style="left:1317.2px">Dec</div>
<svg class="logo" width="30" height="16" viewBox="0 0 30 16"><path d="M0 0H10.8V14.1H5.5V5.2H0Z" fill="#131722"/><circle cx="16" cy="2.8" r="2.8" fill="#131722"/><path d="M21.5 0H27.9L22.8 14.1H16.4Z" fill="#131722"/></svg>
<div class="logotext">TradingView</div>
</body></html>
